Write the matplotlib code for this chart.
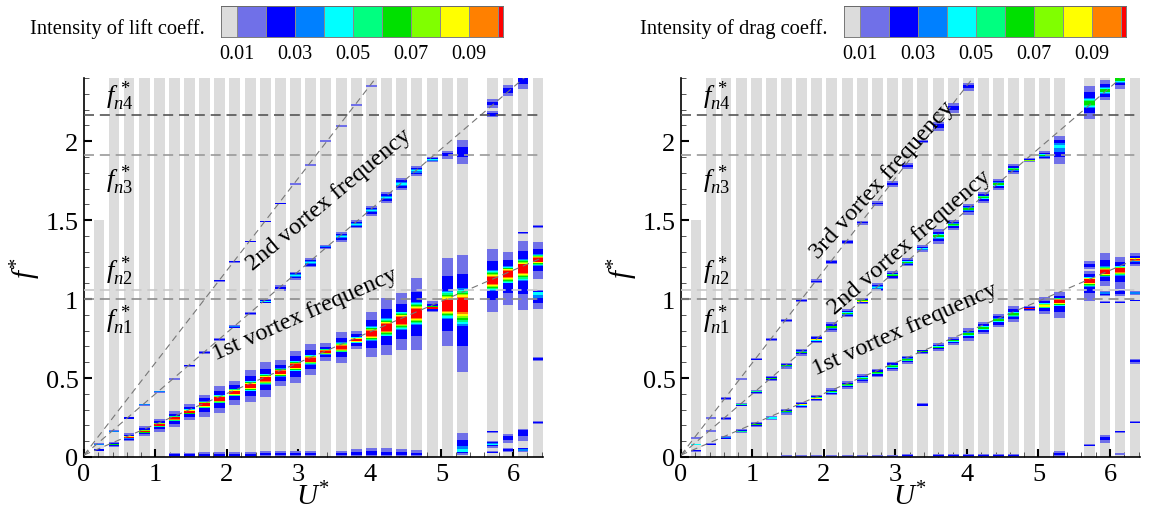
import numpy as np
import matplotlib
matplotlib.use("Agg")
import matplotlib.pyplot as plt
from matplotlib.colors import ListedColormap, BoundaryNorm
from matplotlib.ticker import MultipleLocator, FormatStrFormatter

plt.rcParams['font.family'] = ['Liberation Serif', 'DejaVu Serif']
plt.rcParams['mathtext.fontset'] = 'custom'
plt.rcParams['mathtext.rm'] = 'Liberation Serif'
plt.rcParams['mathtext.it'] = 'Liberation Serif:italic'

# reduced velocity of each run (one gray column per run)
U = [0.21, 0.42, 0.63, 0.85, 1.06, 1.27, 1.48, 1.69, 1.90, 2.11, 2.33, 2.54,
     2.75, 2.96, 3.17, 3.38, 3.60, 3.81, 4.02, 4.23, 4.44, 4.65, 4.87, 5.08,
     5.29, 5.71, 5.93, 6.14, 6.35]
col_top = [1.5] + [2.4] * 28

# natural frequencies fn1..fn4 and vortex shedding lines f = St*U + f0
fn = [1.0, 1.057, 1.91, 2.165]
fn_names = ['n1', 'n2', 'n3', 'n4']
st = [0.195, 0.388, 0.585]
f0 = 0.012

# intensity levels of the colour scale
levels = [0.0, 0.01, 0.02, 0.03, 0.04, 0.05, 0.06, 0.07, 0.08, 0.09, 0.10, 0.11]
cb_ticks = [0.01, 0.03, 0.05, 0.07, 0.09]

# spectral peaks: (U, f_low, f_peak, f_high, peak intensity)
lift_1st = [
    (0.21, 0.035, 0.044, 0.052, 0.035), (0.42, 0.065, 0.080, 0.095, 0.055),
    (0.63, 0.100, 0.125, 0.152, 0.105), (0.85, 0.131, 0.162, 0.194, 0.105),
    (1.06, 0.156, 0.205, 0.240, 0.105), (1.27, 0.188, 0.245, 0.289, 0.105),
    (1.48, 0.236, 0.287, 0.335, 0.105), (1.69, 0.256, 0.333, 0.394, 0.105),
    (1.90, 0.280, 0.367, 0.450, 0.105), (2.11, 0.329, 0.410, 0.483, 0.105),
    (2.33, 0.350, 0.450, 0.551, 0.105), (2.54, 0.378, 0.494, 0.599, 0.105),
    (2.75, 0.447, 0.536, 0.616, 0.105), (2.96, 0.466, 0.578, 0.673, 0.105),
    (3.17, 0.521, 0.616, 0.715, 0.105), (3.38, 0.610, 0.667, 0.719, 0.105),
    (3.60, 0.595, 0.694, 0.793, 0.105), (3.81, 0.684, 0.740, 0.800, 0.105),
    (4.02, 0.631, 0.783, 0.920, 0.105), (4.23, 0.646, 0.820, 1.004, 0.105),
    (4.44, 0.677, 0.867, 1.036, 0.105), (4.65, 0.677, 0.910, 1.131, 0.105),
    (4.87, 0.916, 0.943, 0.989, 0.105), (5.08, 0.700, 0.958, 1.257, 0.105),
    (5.29, 0.536, 0.969, 1.278, 0.105), (5.71, 0.920, 1.116, 1.320, 0.105),
    (5.93, 0.960, 1.164, 1.300, 0.105), (6.14, 0.930, 1.200, 1.370, 0.105),
    (6.35, 1.130, 1.250, 1.360, 0.105),
]
lift_2nd = [
    (0.21, 0.074, 0.080, 0.086, 0.035), (0.42, 0.157, 0.163, 0.169, 0.035),
    (0.63, 0.241, 0.247, 0.253, 0.035), (0.85, 0.325, 0.331, 0.337, 0.035),
    (1.06, 0.407, 0.413, 0.419, 0.035), (1.27, 0.488, 0.494, 0.500, 0.025),
    (1.48, 0.571, 0.578, 0.585, 0.025), (1.69, 0.655, 0.662, 0.669, 0.025),
    (1.90, 0.735, 0.743, 0.751, 0.025), (2.11, 0.815, 0.825, 0.835, 0.035),
    (2.33, 0.900, 0.910, 0.920, 0.025), (2.54, 0.972, 0.986, 1.000, 0.035),
    (2.75, 1.050, 1.070, 1.090, 0.025), (2.96, 1.123, 1.148, 1.173, 0.035),
    (3.17, 1.200, 1.230, 1.260, 0.035), (3.38, 1.318, 1.331, 1.344, 0.045),
    (3.60, 1.364, 1.394, 1.424, 0.035), (3.81, 1.447, 1.474, 1.501, 0.045),
    (4.02, 1.526, 1.559, 1.592, 0.035), (4.23, 1.610, 1.643, 1.676, 0.035),
    (4.44, 1.691, 1.728, 1.765, 0.045), (4.65, 1.779, 1.812, 1.845, 0.045),
    (4.87, 1.866, 1.882, 1.898, 0.045), (5.08, 1.886, 1.915, 1.940, 0.025),
    (5.29, 1.854, 1.930, 2.008, 0.025), (5.71, 2.213, 2.240, 2.266, 0.025),
    (5.93, 2.287, 2.320, 2.354, 0.025), (6.14, 2.333, 2.380, 2.456, 0.025),
]
lift_3rd = [
    (1.90, 1.111, 1.116, 1.121, 0.015), (2.11, 1.231, 1.236, 1.241, 0.015),
    (2.33, 1.360, 1.365, 1.370, 0.015), (2.54, 1.485, 1.490, 1.495, 0.015),
    (2.75, 1.601, 1.606, 1.611, 0.015), (2.96, 1.723, 1.728, 1.733, 0.015),
    (3.17, 1.845, 1.850, 1.855, 0.015), (3.38, 1.995, 2.000, 2.005, 0.015),
    (3.60, 2.092, 2.097, 2.102, 0.015), (3.81, 2.225, 2.230, 2.235, 0.015),
    (4.02, 2.345, 2.350, 2.355, 0.015),
]
lift_other = [
    (1.27, 0.003, 0.012, 0.025, 0.015), (1.48, 0.003, 0.012, 0.025, 0.015),
    (1.69, 0.003, 0.012, 0.030, 0.025), (1.90, 0.003, 0.012, 0.030, 0.015),
    (2.11, 0.003, 0.012, 0.032, 0.025), (2.33, 0.003, 0.012, 0.032, 0.015),
    (2.54, 0.003, 0.014, 0.038, 0.025), (2.75, 0.003, 0.014, 0.038, 0.015),
    (2.96, 0.003, 0.014, 0.038, 0.025), (3.17, 0.003, 0.014, 0.040, 0.025),
    (3.60, 0.003, 0.014, 0.035, 0.025), (3.81, 0.003, 0.016, 0.050, 0.025),
    (4.02, 0.003, 0.018, 0.060, 0.025), (4.23, 0.003, 0.018, 0.055, 0.025),
    (4.44, 0.003, 0.016, 0.050, 0.015), (4.65, 0.003, 0.014, 0.045, 0.015),
    (5.29, 0.015, 0.035, 0.150, 0.045), (5.71, 0.153, 0.160, 0.167, 0.015),
    (5.71, 0.060, 0.080, 0.100, 0.035), (5.71, 0.023, 0.030, 0.037, 0.015),
    (5.93, 0.090, 0.120, 0.145, 0.025), (5.93, 0.030, 0.045, 0.060, 0.015),
    (6.14, 0.100, 0.160, 0.180, 0.025), (6.14, 0.030, 0.045, 0.060, 0.045),
    (6.35, 0.210, 0.220, 0.230, 0.015), (6.35, 0.610, 0.620, 0.630, 0.015),
    (6.35, 0.940, 1.040, 1.060, 0.035), (6.35, 1.453, 1.460, 1.467, 0.015),
    (6.14, 1.413, 1.420, 1.427, 0.015), (5.71, 2.150, 2.170, 2.190, 0.015),
]

drag_1st = [
    (0.21, 0.033, 0.040, 0.047, 0.025), (0.42, 0.077, 0.082, 0.087, 0.065),
    (0.63, 0.112, 0.122, 0.132, 0.035), (0.85, 0.151, 0.163, 0.175, 0.065),
    (1.06, 0.192, 0.207, 0.222, 0.065), (1.27, 0.232, 0.247, 0.262, 0.065),
    (1.48, 0.269, 0.287, 0.305, 0.065), (1.69, 0.311, 0.331, 0.351, 0.075),
    (1.90, 0.352, 0.372, 0.392, 0.075), (2.11, 0.391, 0.413, 0.435, 0.065),
    (2.33, 0.431, 0.456, 0.481, 0.065), (2.54, 0.471, 0.498, 0.525, 0.055),
    (2.75, 0.505, 0.532, 0.559, 0.065), (2.96, 0.544, 0.574, 0.604, 0.065),
    (3.17, 0.589, 0.616, 0.641, 0.065), (3.38, 0.652, 0.667, 0.679, 0.055),
    (3.60, 0.673, 0.694, 0.719, 0.065), (3.81, 0.711, 0.736, 0.757, 0.065),
    (4.02, 0.736, 0.778, 0.814, 0.065), (4.23, 0.778, 0.817, 0.857, 0.065),
    (4.44, 0.821, 0.867, 0.905, 0.065), (4.65, 0.853, 0.905, 0.954, 0.065),
    (4.87, 0.922, 0.940, 0.958, 0.095), (5.08, 0.905, 0.958, 1.010, 0.075),
    (5.29, 0.878, 0.990, 1.042, 0.105), (5.71, 0.990, 1.120, 1.180, 0.105),
    (5.93, 1.080, 1.170, 1.290, 0.105), (6.14, 1.063, 1.185, 1.264, 0.105),
    (6.35, 1.210, 1.250, 1.290, 0.105),
]
drag_2nd = [
    (0.21, 0.076, 0.080, 0.084, 0.065), (0.42, 0.161, 0.165, 0.169, 0.065),
    (0.63, 0.237, 0.245, 0.253, 0.025), (0.85, 0.321, 0.331, 0.341, 0.065),
    (1.06, 0.401, 0.413, 0.425, 0.065), (1.27, 0.483, 0.498, 0.513, 0.065),
    (1.48, 0.560, 0.578, 0.596, 0.055), (1.69, 0.642, 0.662, 0.682, 0.055),
    (1.90, 0.721, 0.743, 0.765, 0.075), (2.11, 0.793, 0.823, 0.853, 0.065),
    (2.33, 0.885, 0.910, 0.935, 0.065), (2.54, 0.967, 0.987, 1.007, 0.075),
    (2.75, 1.049, 1.074, 1.099, 0.045), (2.96, 1.127, 1.152, 1.177, 0.055),
    (3.17, 1.207, 1.232, 1.257, 0.065), (3.38, 1.300, 1.320, 1.340, 0.045),
    (3.60, 1.348, 1.400, 1.443, 0.065), (3.81, 1.440, 1.470, 1.500, 0.055),
    (4.02, 1.535, 1.570, 1.605, 0.065), (4.23, 1.609, 1.644, 1.679, 0.065),
    (4.44, 1.693, 1.728, 1.763, 0.065), (4.65, 1.793, 1.823, 1.853, 0.055),
    (4.87, 1.868, 1.880, 1.892, 0.095), (5.08, 1.885, 1.910, 1.935, 0.065),
    (5.29, 1.854, 1.970, 2.034, 0.045), (5.71, 2.140, 2.240, 2.350, 0.065),
    (5.93, 2.260, 2.320, 2.390, 0.065), (6.14, 2.330, 2.390, 2.450, 0.065),
]
drag_3rd = [
    (0.21, 0.116, 0.120, 0.124, 0.015), (0.42, 0.241, 0.246, 0.251, 0.015),
    (0.63, 0.363, 0.370, 0.377, 0.025), (0.85, 0.487, 0.494, 0.501, 0.025),
    (1.06, 0.612, 0.620, 0.628, 0.025), (1.27, 0.735, 0.743, 0.751, 0.025),
    (1.48, 0.853, 0.863, 0.873, 0.025), (1.69, 0.980, 0.990, 1.000, 0.025),
    (1.90, 1.100, 1.112, 1.124, 0.025), (2.11, 1.224, 1.236, 1.248, 0.025),
    (2.33, 1.351, 1.363, 1.375, 0.025), (2.54, 1.472, 1.484, 1.496, 0.025),
    (2.75, 1.590, 1.605, 1.620, 0.025), (2.96, 1.710, 1.730, 1.750, 0.025),
    (3.17, 1.824, 1.844, 1.864, 0.025), (3.38, 1.986, 1.996, 2.006, 0.025),
    (3.60, 2.065, 2.100, 2.120, 0.025), (3.81, 2.180, 2.210, 2.240, 0.015),
    (4.02, 2.320, 2.350, 2.370, 0.025),
]
drag_other = [
    (1.48, 0.002, 0.006, 0.012, 0.015), (1.69, 0.002, 0.006, 0.012, 0.015),
    (1.90, 0.002, 0.006, 0.012, 0.015), (2.11, 0.002, 0.006, 0.012, 0.015),
    (2.33, 0.002, 0.006, 0.012, 0.015), (2.54, 0.002, 0.006, 0.012, 0.015),
    (2.75, 0.002, 0.006, 0.014, 0.015), (2.96, 0.002, 0.006, 0.014, 0.015),
    (3.17, 0.002, 0.008, 0.016, 0.015), (3.60, 0.002, 0.008, 0.016, 0.015),
    (3.81, 0.002, 0.010, 0.020, 0.025), (4.02, 0.002, 0.008, 0.016, 0.015),
    (4.23, 0.002, 0.008, 0.016, 0.015), (4.44, 0.002, 0.008, 0.016, 0.015),
    (4.65, 0.002, 0.008, 0.016, 0.015), (3.38, 0.320, 0.330, 0.340, 0.015),
    (5.29, 0.002, 0.015, 0.035, 0.025), (5.71, 0.068, 0.075, 0.082, 0.015),
    (5.93, 0.090, 0.115, 0.140, 0.015), (6.14, 0.155, 0.160, 0.165, 0.015),
    (6.14, 0.015, 0.020, 0.025, 0.015), (6.35, 0.215, 0.220, 0.225, 0.015),
    (6.35, 0.590, 0.605, 0.620, 0.015), (5.71, 1.190, 1.215, 1.240, 0.025),
    (5.93, 1.020, 1.040, 1.050, 0.045), (5.93, 0.975, 0.980, 0.985, 0.015),
    (6.14, 1.017, 1.040, 1.060, 0.025), (6.14, 0.975, 0.980, 0.985, 0.015),
    (6.35, 1.025, 1.040, 1.050, 0.035), (6.35, 0.985, 0.990, 0.995, 0.015),
]

colors = ['#dcdcdc', '#7070e8', '#0000ff', '#0080ff', '#00ffff', '#00ff80',
          '#00e000', '#80ff00', '#ffff00', '#ff8000', '#ff0000']
cmap = ListedColormap(colors)
norm = BoundaryNorm(levels, cmap.N)

W = 0.15          # width of a column in U*
GRAY = '#dcdcdc'


def band_frac(i, n):
    # share of the peak's spread covered by colour level i (nested bands)
    if i == 1:
        return 1.0
    if i == 2:
        return 0.62 if n > 2 else 0.4
    if n == 3:
        return 0.3
    return 0.32 - 0.2 * (i - 3) / (n - 3)


def draw_peaks(ax, peaks):
    for u, lo, pk, hi, amp in peaks:
        n = int(round(amp * 100))
        for i in range(1, n + 1):
            frac = band_frac(i, n)
            b = pk - (pk - lo) * frac
            t = pk + (hi - pk) * frac
            ax.bar(u, t - b, bottom=b, width=W, color=cmap(norm(levels[i] + 0.005)),
                   linewidth=0, zorder=2)


def setup_panel(ax, series, labels):
    ax.bar(U, col_top, width=W, color=GRAY, linewidth=0, zorder=1)
    for s in series:
        draw_peaks(ax, s)

    uu = np.array([0.0, 6.5])
    for s in st:
        ax.plot(uu, s * uu + f0, color='#777777', lw=0.8, dashes=(6, 4), zorder=3)

    hcol = ['#8c8c8c', '#c8c8c8', '#999999', '#555555']
    for f, c in zip(fn, hcol):
        ax.axhline(f, color=c, lw=1.2, dashes=(6, 3.5), zorder=3)

    lab_y = [0.87, 1.18, 1.76, 2.29]
    for name, y in zip(fn_names, lab_y):
        ax.text(0.31, y, r'$\mathit{f}^{\,*}_{\mathit{%s}}$' % name, fontsize=19,
                ha='left', va='center', zorder=4)

    for txt, x, y, rot in labels:
        ax.text(x, y, txt, fontsize=17.5, rotation=rot, rotation_mode='anchor',
                ha='center', va='center', zorder=4)

    ax.set_xlim(0, 6.42)
    ax.set_ylim(0, 2.4)
    ax.spines['top'].set_visible(False)
    ax.spines['right'].set_visible(False)
    ax.spines['left'].set_linewidth(1.2)
    ax.spines['bottom'].set_linewidth(1.2)
    ax.xaxis.set_major_locator(MultipleLocator(1))
    ax.xaxis.set_minor_locator(MultipleLocator(0.2))
    ax.yaxis.set_major_locator(MultipleLocator(0.5))
    ax.yaxis.set_minor_locator(MultipleLocator(0.1))
    ax.yaxis.set_major_formatter(FormatStrFormatter('%g'))
    ax.xaxis.set_major_formatter(FormatStrFormatter('%g'))
    ax.tick_params(which='both', direction='in', labelsize=19, pad=4)
    ax.tick_params(which='major', length=6, width=1.5)
    ax.tick_params(which='minor', length=3.5, width=0.7, color='#555555')
    ax.set_xlabel(r'$U^{*}$', fontsize=21)
    ax.xaxis.set_label_coords(0.5, -0.066)
    ax.set_ylabel(r'$f^{*}$', fontsize=21, labelpad=2)


def colorbar(x0, title):
    cax = fig.add_axes([x0, 0.9255, 0.2419, 0.0608])
    b = np.array(levels)
    cax.pcolormesh(b, [0, 1], (b[:-1] + 0.005)[None, :], cmap=cmap, norm=norm,
                   edgecolor='#8a8a8a', linewidth=0.4)
    cax.set_xlim(0.0046, 0.1018)
    cax.set_ylim(0, 1)
    cax.set_yticks([])
    cax.set_xticks(cb_ticks)
    cax.set_xticklabels(['%.2f' % t for t in cb_ticks])
    cax.tick_params(length=0, labelsize=14.5, pad=5)
    for sp in cax.spines.values():
        sp.set_linewidth(0.6)
        sp.set_color('#666666')
    fig.text(x0 - 0.014, 0.943, title, ha='right', va='center', fontsize=14.8)


fig = plt.figure(figsize=(11.66, 5.10), dpi=100)
ax1 = fig.add_axes([0.0720, 0.1020, 0.3937, 0.7431])
ax2 = fig.add_axes([0.5840, 0.1020, 0.3937, 0.7431])

setup_panel(ax1, [lift_other, lift_3rd, lift_2nd, lift_1st],
            [('2nd vortex frequency', 3.42, 1.63, 40),
             ('1st vortex frequency', 3.09, 0.91, 24)])
setup_panel(ax2, [drag_other, drag_3rd, drag_2nd, drag_1st],
            [('3rd vortex frequency', 2.82, 1.76, 48),
             ('2nd vortex frequency', 3.20, 1.36, 41),
             ('1st vortex frequency', 3.13, 0.81, 24)])

colorbar(0.1895, 'Intensity of lift coeff.')
colorbar(0.7238, 'Intensity of drag coeff.')

fig.savefig('out.png', dpi=100)
